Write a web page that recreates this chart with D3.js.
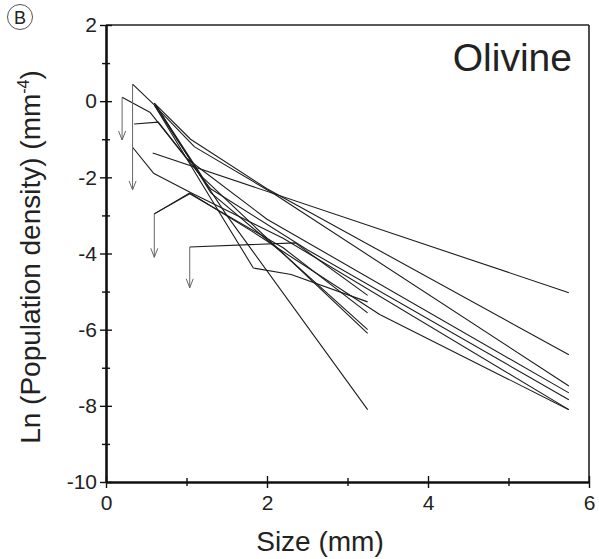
<!DOCTYPE html>
<html>
<head>
<meta charset="utf-8">
<script src="https://cdn.jsdelivr.net/npm/d3@7"></script>
<style>
  html, body { margin: 0; padding: 0; background: #fff; }
  svg { display: block; font-family: "Liberation Sans", Arial, sans-serif; }
</style>
</head>
<body>
<svg id="chart" width="599" height="559"></svg>
<script>
// Crystal size distributions: [size (mm), ln(population density)] per sample
const csd01 = [[0.58, -1.36], [5.75, -5.03]];
const csd02 = [[0.6, -0.05], [1.05, -1.0], [2.0, -2.3], [5.75, -6.66]];
const csd03 = [[0.62, -0.15], [1.1, -1.2], [2.1, -2.45], [5.75, -7.48]];
const csd04 = [[0.2, 0.1], [0.55, -0.3], [1.0, -1.5], [2.0, -3.1], [5.75, -7.66]];
const csd05 = [[0.35, -0.6], [0.65, -0.55], [1.3, -2.3], [2.5, -3.9], [5.75, -7.84]];
const csd06 = [[0.33, -1.21], [0.59, -1.89], [1.05, -2.4], [2.2, -3.6], [5.75, -8.1]];
const csd07 = [[0.6, -2.96], [1.04, -2.41], [1.8, -3.4], [3.4, -5.6], [5.75, -8.1]];
const csd08 = [[1.04, -3.83], [2.35, -3.72], [3.25, -5.1]];
const csd09 = [[0.6, -0.1], [1.2, -2.2], [1.83, -4.38], [2.3, -4.55], [3.25, -5.27]];
const csd10 = [[0.33, 0.45], [0.6, -0.1], [1.5, -3.0], [3.25, -8.1]];
const csd11 = [[0.6, -0.05], [1.2, -2.0], [2.0, -3.6], [3.25, -6.1]];
const csd12 = [[0.62, -0.1], [1.3, -2.4], [2.2, -4.0], [3.25, -6.0]];
const csd13 = [[0.6, -2.96], [1.04, -2.43], [2.2, -3.85], [3.25, -5.56]];
const csdLines = [csd01, csd02, csd03, csd04, csd05, csd06, csd07,
                  csd08, csd09, csd10, csd11, csd12, csd13];

// Downward arrows from the first size bin of some samples
const arrowSize = [0.2, 0.33, 0.6, 1.04];
const arrowFrom = [0.1, 0.45, -2.96, -3.83];
const arrowTo   = [-1.02, -2.33, -4.1, -4.9];

// Axis ticks
const xTicks = [0, 1, 2, 3, 4, 5, 6];
const yTicks = [2, 1, 0, -1, -2, -3, -4, -5, -6, -7, -8, -9, -10];

const svg = d3.select("#chart");
const x = d3.scaleLinear().domain([0, 6]).range([106, 589]);
const y = d3.scaleLinear().domain([-10, 2]).range([482, 25]);

// plain hyphen for negative tick labels, labels on even values only
const fmt = d => (d % 2 === 0 ? String(d) : "");

// frame: top and right borders
svg.append("line").attr("x1", x(0)).attr("x2", x(6)).attr("y1", y(2)).attr("y2", y(2))
  .attr("stroke", "#222").attr("stroke-width", 1.6);
svg.append("line").attr("x1", x(6)).attr("x2", x(6)).attr("y1", y(2)).attr("y2", y(-10))
  .attr("stroke", "#222").attr("stroke-width", 1.6);

// bottom axis
const gx = svg.append("g").attr("transform", `translate(0,${y(-10)})`)
  .call(d3.axisBottom(x).tickValues(xTicks).tickFormat(fmt).tickSizeOuter(0));
gx.select(".domain").attr("stroke", "#111").attr("stroke-width", 2.6);
gx.selectAll(".tick line").attr("stroke", "#111").attr("stroke-width", 1.4)
  .attr("y1", d => d % 2 === 0 ? -6 : -4).attr("y2", d => d % 2 === 0 ? 6 : 4);
gx.selectAll(".tick text").attr("y", 13).attr("font-size", 21)
  .attr("font-family", "Liberation Sans, Arial, sans-serif").attr("fill", "#222");

// left axis
const gy = svg.append("g").attr("transform", `translate(${x(0)},0)`)
  .call(d3.axisLeft(y).tickValues(yTicks).tickFormat(fmt).tickSizeOuter(0));
gy.select(".domain").attr("stroke", "#111").attr("stroke-width", 2.6);
gy.selectAll(".tick line").attr("stroke", "#111").attr("stroke-width", 1.4)
  .attr("x1", d => d % 2 === 0 ? -6 : -4).attr("x2", d => d % 2 === 0 ? 6 : 4);
gy.selectAll(".tick text").attr("x", -9).attr("font-size", 21)
  .attr("font-family", "Liberation Sans, Arial, sans-serif").attr("fill", "#222");

// sample curves
const line = d3.line().x(d => x(d[0])).y(d => y(d[1]));
svg.append("g").selectAll("path").data(csdLines).join("path")
  .attr("d", line)
  .attr("fill", "none")
  .attr("stroke", "#1c1c1c")
  .attr("stroke-width", 1.1)
  .attr("stroke-linejoin", "round");

// arrows
const ag = svg.append("g").attr("stroke", "#666").attr("fill", "none").attr("stroke-width", 1);
arrowSize.forEach((s, i) => {
  const ax = x(s), y0 = y(arrowFrom[i]), y1 = y(arrowTo[i]);
  ag.append("line").attr("x1", ax).attr("x2", ax).attr("y1", y0).attr("y2", y1);
  ag.append("path").attr("d", `M${ax - 3.5},${y1 - 9}L${ax},${y1}L${ax + 3.5},${y1 - 9}`);
});

// axis titles
svg.append("text").attr("x", 320).attr("y", 551).attr("text-anchor", "middle")
  .attr("font-size", 28).attr("fill", "#222").text("Size (mm)");

const yl = svg.append("text")
  .attr("transform", `translate(40,${257}) rotate(-90)`)
  .attr("text-anchor", "middle").attr("font-size", 28).attr("fill", "#222");
yl.append("tspan").text("Ln (Population density) (mm");
yl.append("tspan").attr("font-size", 16).attr("dy", -11).text("-4");
yl.append("tspan").attr("dy", 11).text(")");

// panel label
svg.append("text").attr("x", 572).attr("y", 71).attr("text-anchor", "end")
  .attr("font-size", 39).attr("fill", "#222").text("Olivine");

svg.append("circle").attr("cx", 20).attr("cy", 17).attr("r", 12.5)
  .attr("fill", "none").attr("stroke", "#555").attr("stroke-width", 1);
svg.append("text").attr("x", 20).attr("y", 23.5).attr("text-anchor", "middle")
  .attr("font-size", 18).attr("fill", "#222").text("B");
</script>
</body>
</html>
